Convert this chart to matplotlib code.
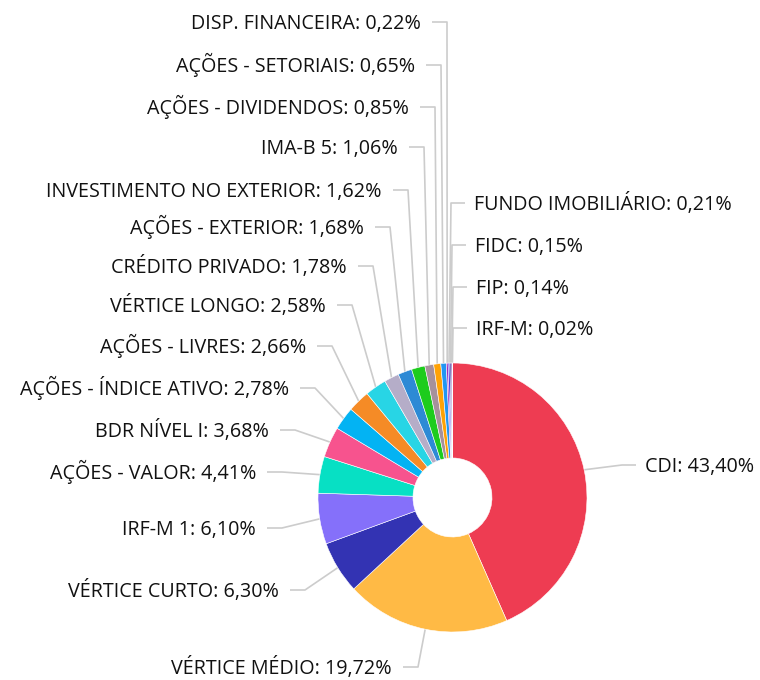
import matplotlib
matplotlib.use('Agg')
import matplotlib.pyplot as plt
import numpy as np

# slice data (clockwise from 12 o'clock)
names = ['CDI', 'VÉRTICE MÉDIO', 'VÉRTICE CURTO', 'IRF-M 1', 'AÇÕES - VALOR',
         'BDR NÍVEL I', 'AÇÕES - ÍNDICE ATIVO', 'AÇÕES - LIVRES', 'VÉRTICE LONGO',
         'CRÉDITO PRIVADO', 'AÇÕES - EXTERIOR', 'INVESTIMENTO NO EXTERIOR', 'IMA-B 5',
         'AÇÕES - DIVIDENDOS', 'AÇÕES - SETORIAIS', 'DISP. FINANCEIRA',
         'FUNDO IMOBILIÁRIO', 'FIDC', 'FIP', 'IRF-M']
values = [43.40, 19.72, 6.30, 6.10, 4.41, 3.68, 2.78, 2.66, 2.58, 1.78, 1.68, 1.62,
          1.06, 0.85, 0.65, 0.22, 0.21, 0.15, 0.14, 0.02]
colors = ['#EE3C52', '#FFBA45', '#3333B3', '#8570FA', '#07E0C4', '#F7538E', '#03B3F3',
          '#F58B26', '#28D5E5', '#B5ADC8', '#2D8AD5', '#1DCC1D', '#A6919C', '#FFA206',
          '#2196F3', '#9C2FC0', '#3D2BE0', '#2B2B8F', '#6A1B9A', '#1A237E']

# label layout (pixels from top-left): side, row y, bend x of connector
sides = ['R', 'L', 'L', 'L', 'L', 'L', 'L', 'L', 'L', 'L', 'L', 'L', 'L', 'L', 'L', 'L',
         'R', 'R', 'R', 'R']
label_y = [465, 667, 590, 528, 472, 430, 388, 346, 305, 266, 227, 190, 147, 107, 65, 22,
           203, 245, 287, 328]
bend_x = [622, 418, 305, 282, 282, 295, 315, 332, 352, 373, 390, 408, 424, 435, 441, 447,
          451, 452, 453, 453]

W, H = 760, 680
cx, cy = 452.5, H - 497.5
R, r_in = 134.5, 39.5

fig = plt.figure(figsize=(7.6, 6.8), dpi=100)
ax = fig.add_axes([0, 0, 1, 1])
plt.rcParams['font.family'] = ['Open Sans', 'DejaVu Sans']

wedges, _ = ax.pie(values, colors=colors, startangle=90, counterclock=False,
                   center=(cx, cy), radius=R,
                   wedgeprops=dict(width=R - r_in, edgecolor='white', linewidth=0.4))

line_col = '#cccccc'
for w, name, v, side, ly, bx in zip(wedges, names, values, sides, label_y, bend_x):
    a = np.deg2rad((w.theta1 + w.theta2) / 2)
    ex, ey = cx + R * np.cos(a), cy + R * np.sin(a)
    y = H - ly
    if side == 'L':
        sx, tx, ha = bx - 15, bx - 26, 'right'
    else:
        sx, tx, ha = bx + 14, bx + 23, 'left'
    ax.plot([sx, bx, ex], [y, y, ey], color=line_col, lw=1.2, solid_capstyle='butt', zorder=0)
    txt = name + ': ' + f'{v:.2f}'.replace('.', ',') + '%'
    ax.text(tx, y - 7, txt, ha=ha, va='baseline', fontsize=14.2, color='#111111')

ax.set_xlim(0, W)
ax.set_ylim(0, H)
ax.set_aspect('equal')
ax.axis('off')

fig.savefig('out.png', dpi=100)
